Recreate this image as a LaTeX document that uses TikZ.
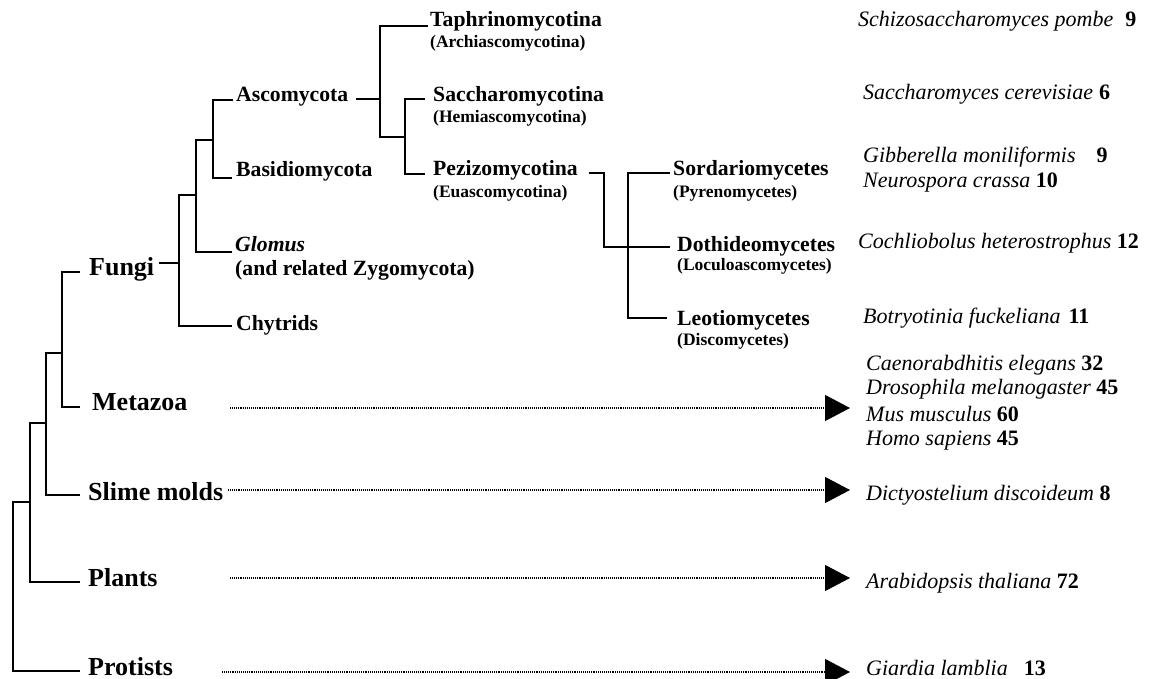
\documentclass[tikz,border=0pt]{standalone}
\usepackage{fontspec}
\setmainfont{Liberation Serif}
\usetikzlibrary{arrows.meta}
\begin{document}
\begin{tikzpicture}[x=1pt,y=-1pt,
  branch/.style={line width=2.6pt, line join=miter, line cap=butt},
  big/.style={anchor=base west, inner sep=0pt, font=\fontsize{26}{30}\selectfont\bfseries},
  mid/.style={anchor=base west, inner sep=0pt, font=\fontsize{21.7}{25}\selectfont\bfseries},
  small/.style={anchor=base west, inner sep=0pt, font=\fontsize{17.5}{20}\selectfont\bfseries},
  species/.style={anchor=base west, inner sep=0pt, font=\fontsize{22}{26}\selectfont},
  lead/.style={line width=1.1pt, dash pattern=on 1pt off 0.9pt, -{Triangle[length=25pt,width=26pt]}}]
\useasboundingbox (0,0) rectangle (1153,679);

% ---- labels ----
\node[mid] (taph) at (430,27) {Taphrinomycotina};
\node[small] (taphs) at (430,48) {(Archiascomycotina)};
\node[mid] (asco) at (236,102) {Ascomycota};
\node[mid] (sacc) at (433,102) {Saccharomycotina};
\node[small] (saccs) at (433,123) {(Hemiascomycotina)};
\node[mid] (basi) at (236,177) {Basidiomycota};
\node[mid] (pezi) at (433,176) {Pezizomycotina};
\node[small] (pezis) at (433,197) {(Euascomycotina)};
\node[mid] (sord) at (673,176) {Sordariomycetes};
\node[small] (sords) at (673,197) {(Pyrenomycetes)};
\node[mid] (doth) at (677,251) {Dothideomycetes};
\node[small] (doths) at (677,270) {(Loculoascomycetes)};
\node[mid] (leot) at (677,325) {Leotiomycetes};
\node[small] (leots) at (677,345) {(Discomycetes)};
\node[mid] (glom) at (235,251) {\itshape Glomus};
\node[mid] (gloms) at (235,275) {(and related Zygomycota)};
\node[mid] (chyt) at (236,330) {Chytrids};
\node[big] (fungi) at (89,275) {Fungi};
\node[big] (meta) at (92,410) {Metazoa};
\node[big] (slime) at (88,500) {Slime molds};
\node[big] (plant) at (88,586) {Plants};
\node[big] (prot) at (88,675) {Protists};

% ---- species ----
\node[species] (sp1) at (858,27) {\textit{Schizosaccharomyces pombe}\hspace{12pt}\textbf{9}};
\node[species] (sp2) at (863,100) {\textit{Saccharomyces cerevisiae}\hspace{6pt}\textbf{6}};
\node[species] (sp3) at (863,163) {\textit{Gibberella moniliformis}\hspace{21pt}\textbf{9}};
\node[species] (sp4) at (863,187) {\textit{Neurospora crassa} \textbf{10}};
\node[species] (sp5) at (858,248) {\textit{Cochliobolus heterostrophus} \textbf{12}};
\node[species] (sp6) at (863,323) {\textit{Botryotinia fuckeliana}\hspace{8pt}\textbf{11}};
\node[species] (sp7) at (866,370) {\textit{Caenorabdhitis elegans} \textbf{32}};
\node[species] (sp8) at (866,394) {\textit{Drosophila melanogaster} \textbf{45}};
\node[species] (sp9) at (866,421) {\textit{Mus musculus} \textbf{60}};
\node[species] (sp10) at (866,445) {\textit{Homo sapiens} \textbf{45}};
\node[species] (sp11) at (866,500) {\textit{Dictyostelium discoideum} \textbf{8}};
\node[species] (sp12) at (866,588) {\textit{Arabidopsis thaliana} \textbf{72}};
\node[species] (sp13) at (866,675) {\textit{Giardia lamblia}\hspace{16pt}\textbf{13}};

% ---- junction coordinates ----
\coordinate (r0) at (13,502);   \coordinate (r0b) at (13,671);  \coordinate (protE) at (80,671);
\coordinate (j1) at (30,502);   \coordinate (j1t) at (30,423);  \coordinate (j1b) at (30,582); \coordinate (plantE) at (80,582);
\coordinate (j2) at (46,423);   \coordinate (j2t) at (46,353);  \coordinate (j2b) at (46,495); \coordinate (slimeE) at (80,495);
\coordinate (j3) at (62,353);   \coordinate (j3t) at (62,272);  \coordinate (j3b) at (62,407); \coordinate (metaE) at (80,407);
\coordinate (fungiE) at (80,272);
\coordinate (fungiR) at (159,263); \coordinate (f0) at (179,263);
\coordinate (f0t) at (179,195); \coordinate (f0b) at (179,326); \coordinate (chytE) at (232,326);
\coordinate (f1) at (196,195); \coordinate (f1t) at (196,140); \coordinate (f1b) at (196,252); \coordinate (glomE) at (232,252);
\coordinate (f2) at (213,140); \coordinate (f2t) at (213,100); \coordinate (f2b) at (213,178);
\coordinate (ascoE) at (233,100); \coordinate (basiE) at (232,178);
\coordinate (ascoR) at (356,99); \coordinate (a0) at (380,99);
\coordinate (a0t) at (380,26); \coordinate (a0b) at (380,137); \coordinate (taphE) at (428,26);
\coordinate (a1) at (405,137); \coordinate (a1t) at (405,99); \coordinate (a1b) at (405,174);
\coordinate (saccE) at (425,99); \coordinate (peziE) at (425,174);
\coordinate (peziR) at (589,173); \coordinate (p0t) at (604,173); \coordinate (p0b) at (604,247); \coordinate (dothE) at (670,247);
\coordinate (p1t) at (628,173); \coordinate (p1b) at (628,318);
\coordinate (sordE) at (670,173); \coordinate (leotE) at (667,318);

% ---- tree ----
\draw[branch] (j1) -- (r0) -- (r0b) -- (protE);
\draw[branch] (j2) -- (j1t) -- (j1b) -- (plantE);
\draw[branch] (j3) -- (j2t) -- (j2b) -- (slimeE);
\draw[branch] (fungiE) -- (j3t) -- (j3b) -- (metaE);
\draw[branch] (fungiR) -- (f0);
\draw[branch] (f1) -- (f0t) -- (f0b) -- (chytE);
\draw[branch] (f2) -- (f1t) -- (f1b) -- (glomE);
\draw[branch] (ascoE) -- (f2t) -- (f2b) -- (basiE);
\draw[branch] (ascoR) -- (a0);
\draw[branch] (taphE) -- (a0t) -- (a0b) -- (a1);
\draw[branch] (saccE) -- (a1t) -- (a1b) -- (peziE);
\draw[branch] (peziR) -- (p0t) -- (p0b) -- (dothE);
\draw[branch] (sordE) -- (p1t) -- (p1b) -- (leotE);

% ---- leaders ----
\coordinate (m0) at (230,408); \coordinate (m1) at (850,408);
\coordinate (s0) at (228,490); \coordinate (s1) at (850,490);
\coordinate (pl0) at (230,578); \coordinate (pl1) at (850,578);
\coordinate (pr0) at (222,672); \coordinate (pr1) at (850,672);
\draw[lead] (m0) -- (m1);
\draw[lead] (s0) -- (s1);
\draw[lead] (pl0) -- (pl1);
\draw[lead] (pr0) -- (pr1);
\end{tikzpicture}
\end{document}
